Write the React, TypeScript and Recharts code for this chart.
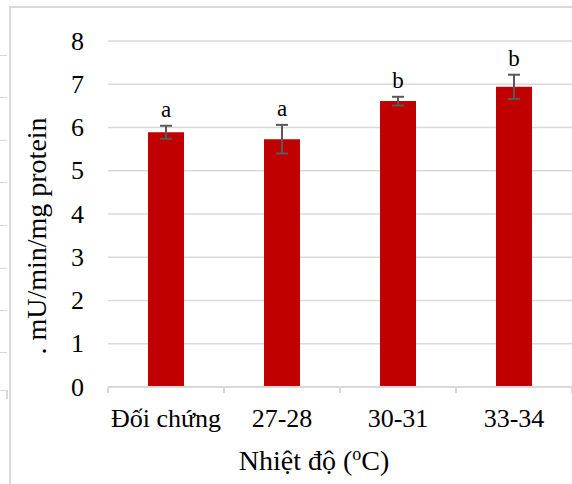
import React from "react";
import { BarChart, Bar, XAxis, YAxis, CartesianGrid, ErrorBar, LabelList, Label } from "recharts";

const categories = ["Đối chứng", "27-28", "30-31", "33-34"];
const activity = [5.89, 5.73, 6.61, 6.94];
const deviation = [0.15, 0.33, 0.1, 0.28];
const groups = ["a", "a", "b", "b"];
const yTicks = [0, 1, 2, 3, 4, 5, 6, 7, 8];

const data = categories.map((name, i) => ({
  name,
  value: activity[i],
  err: deviation[i],
  group: groups[i],
}));

const FONT = "Liberation Serif";
const RED = "#C00000";
const GRID = "#d9d9d9";
const TEXT = "#000000";

const W = 572;
const H = 484;
const Y_AXIS_W = 108;

const serif = (size: number) => ({ fontFamily: FONT, fontSize: size });

// category labels, with Excel-style ticks on the band edges
const CategoryTick = (props: any) => {
  const { x, y, payload, index, visibleTicksCount } = props;
  const count = visibleTicksCount || categories.length;
  const band = (W - Y_AXIS_W) / count;
  const left = x - band / 2;
  return (
    <g>
      <line x1={left} y1={y} x2={left} y2={y + 6} stroke={GRID} strokeWidth={2} />
      {index === count - 1 && (
        <line x1={left + band} y1={y} x2={left + band} y2={y + 6} stroke={GRID} strokeWidth={2} />
      )}
      <text x={x} y={y + 40} textAnchor="middle" style={serif(26)} fill={TEXT}>
        {payload.value}
      </text>
    </g>
  );
};

const ValueTick = (props: any) => {
  const { x, y, payload } = props;
  return (
    <text x={x} y={y} textAnchor="end" dominantBaseline="central" style={serif(26)} fill={TEXT}>
      {payload.value}
    </text>
  );
};

// significance letter sits just above the error bar cap
const GroupLabel = (props: any) => {
  const { x, y, width, height, index } = props;
  const pxPerUnit = height / activity[index];
  const top = y - deviation[index] * pxPerUnit;
  return (
    <text x={x + width / 2} y={top - 9} textAnchor="middle" style={serif(23)} fill={TEXT}>
      {groups[index]}
    </text>
  );
};

const YTitle = () => (
  <text
    x={36}
    y={236}
    transform="rotate(-90 36 236)"
    textAnchor="middle"
    dominantBaseline="central"
    style={serif(28)}
    fill={TEXT}
  >
    . mU/min/mg protein
  </text>
);

const XTitle = () => (
  <text x={314} y={470} textAnchor="middle" style={serif(28)} fill={TEXT}>
    Nhiệt độ (
    <tspan style={{ fontSize: 18 }} dy={-10}>o</tspan>
    <tspan dy={10}>C)</tspan>
  </text>
);

const sideMarks = [55, 97, 140, 182, 225, 268, 310, 352];

export default function App() {
  return (
    <div style={{ position: "absolute", left: 0, top: 0, width: W, height: H, background: "#fff", overflow: "hidden" }}>
      {/* frame of the chart area and the edge of the neighbouring one */}
      <div
        style={{
          position: "absolute",
          left: 9,
          top: 6,
          width: W,
          height: H,
          borderLeft: `2px solid ${GRID}`,
          borderTop: `2px solid ${GRID}`,
        }}
      />
      {sideMarks.map((t) => (
        <div key={t} style={{ position: "absolute", left: 0, top: t, width: 7, height: 1, background: GRID }} />
      ))}
      <div
        style={{
          position: "absolute",
          left: 0,
          top: 390,
          width: 6,
          height: 8,
          borderTop: `1px solid ${GRID}`,
          borderRight: `2px solid ${GRID}`,
        }}
      />
      <div style={{ position: "absolute", left: 0, top: 0 }}>
        <BarChart width={W} height={H} data={data} margin={{ top: 41, right: 0, left: 0, bottom: 0 }}>
          <CartesianGrid vertical={false} stroke={GRID} strokeWidth={1.5} />
          <XAxis
            dataKey="name"
            height={97}
            axisLine={{ stroke: GRID, strokeWidth: 2 }}
            tickLine={false}
            tickSize={0}
            tickMargin={0}
            interval={0}
            tick={<CategoryTick />}
          />
          <YAxis
            width={Y_AXIS_W}
            domain={[0, 8]}
            ticks={yTicks}
            axisLine={false}
            tickLine={false}
            tickSize={0}
            tickMargin={24}
            tick={<ValueTick />}
          >
            <Label content={<YTitle />} />
          </YAxis>
          <Bar dataKey="value" fill={RED} barSize={36} isAnimationActive={false}>
            <ErrorBar dataKey="err" stroke="#595959" strokeWidth={2} width={6} />
            <LabelList dataKey="group" content={<GroupLabel />} />
          </Bar>
        </BarChart>
      </div>
      <svg width={W} height={H} style={{ position: "absolute", left: 0, top: 0, pointerEvents: "none" }}>
        <XTitle />
      </svg>
    </div>
  );
}
